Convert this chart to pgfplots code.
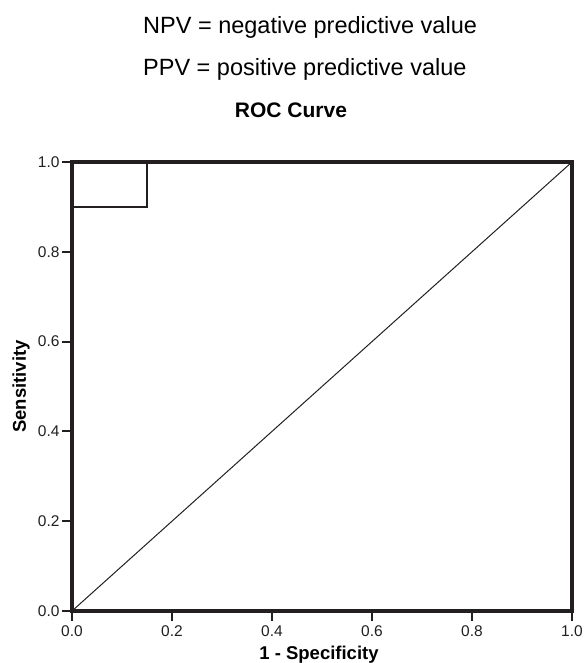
\documentclass[border=0pt]{standalone}
\usepackage{fontspec}
\setmainfont{Liberation Sans}
\usepackage{pgfplots}
\pgfplotsset{compat=1.18}
\definecolor{ink}{HTML}{231F20}
\begin{document}
\begin{tikzpicture}
\path[use as bounding box] (-72pt,-52pt) rectangle (513pt,611pt);
\node[anchor=base west, font=\fontsize{23.5}{26}\selectfont, inner sep=0pt] at (71pt,577.5pt) {NPV = negative predictive value};
\node[anchor=base west, font=\fontsize{23.5}{26}\selectfont, inner sep=0pt] at (71pt,535pt) {PPV = positive predictive value};
\node[anchor=center, font=\bfseries\fontsize{21}{24}\selectfont, inner sep=0pt] at (219pt,501pt) {ROC Curve};
\begin{axis}[
    at={(0pt,0pt)}, anchor=south west,
    scale only axis, width=500pt, height=449pt,
    xmin=0, xmax=1, ymin=0, ymax=1,
    xtick={0,0.2,...,1.0}, ytick={0,0.2,...,1.0},
    xticklabels={0.0,0.2,0.4,0.6,0.8,1.0},
    yticklabels={0.0,0.2,0.4,0.6,0.8,1.0},
    axis line style={line width=3.8pt, ink},
    tick align=outside, major tick length=10pt,
    tick style={line width=2pt, ink},
    xtick pos=bottom, ytick pos=left,
    x tick label style={font=\fontsize{15.5}{17}\selectfont, text=ink, yshift=-1pt},
    y tick label style={font=\fontsize{15.5}{17}\selectfont, text=ink, xshift=1pt},
    /pgf/number format/assume math mode=true,
    clip=false,
  ]
  \addplot[ink, line width=1.4pt] coordinates {(0,0) (0,0.9) (0.15,0.9) (0.15,1.0) (1,1)};
  \addplot[ink, line width=1pt] coordinates {(0,0) (1,1)};
  \node[font=\bfseries\fontsize{18.5}{20}\selectfont, rotate=90, inner sep=0pt] at (axis description cs:-0.102,0.5) {Sensitivity};
  \node[font=\bfseries\fontsize{18.5}{20}\selectfont, inner sep=0pt] at (axis description cs:0.494,-0.098) {1 - Specificity};
\end{axis}
\end{tikzpicture}
\end{document}
